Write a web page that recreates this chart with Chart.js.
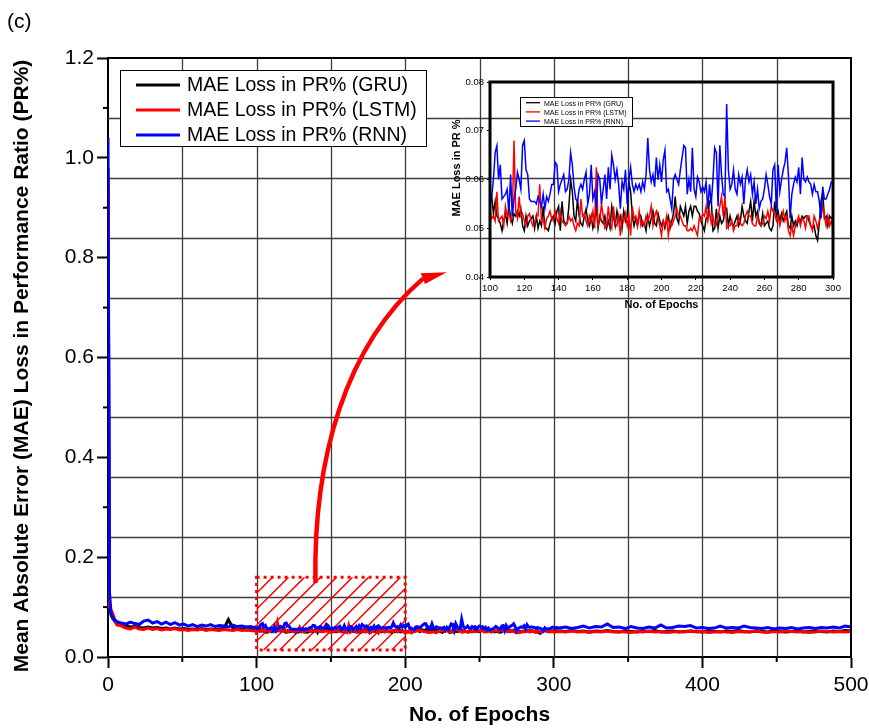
<!DOCTYPE html>
<html>
<head>
<meta charset="utf-8">
<script src="https://cdn.jsdelivr.net/npm/chart.js@4.4.0/dist/chart.umd.min.js"></script>
<style>
  body { margin: 0; background: #fff; }
  #wrap { position: relative; width: 869px; height: 728px; }
  #mainChart { position: absolute; left: 0; top: 0; }
  #insetBox { position: absolute; left: 440px; top: 70px; width: 410px; height: 250px; }
</style>
</head>
<body>
<div id="wrap">
  <canvas id="mainChart" width="869" height="728"></canvas>
  <div id="insetBox"><canvas id="insetChart" width="410" height="250"></canvas></div>
</div>
<script>
// series labels and colours
const seriesNames = ['MAE Loss in PR% (GRU)', 'MAE Loss in PR% (LSTM)', 'MAE Loss in PR% (RNN)'];
const seriesColors = ['#000000', '#ff0000', '#0000ff'];

const range = (a, b, s) => { const out = []; for (let v = a; v <= b; v += s) out.push(v); return out; };

// epochs 0-99 (sparse), 100-300 (every epoch, also the inset), 304-500 (every 4)
const epochsEarly = [0, 1, 2, 3, 4, 5, 6, 9, 12, 15, 18, 21, 24, 27, 30, 33, 36, 39, 42, 45, 48,
  51, 54, 57, 60, 63, 66, 69, 72, 75, 78, 81, 84, 87, 90, 93, 96, 99];
const epochsMid = range(100, 300, 1);
const epochsLate = range(304, 500, 4);

const gruEarly = [0.98, 0.11, 0.085, 0.078, 0.074, 0.07,
  0.068, 0.064, 0.062, 0.060, 0.061, 0.059, 0.058, 0.060, 0.058, 0.059,
  0.057, 0.058, 0.056, 0.058, 0.056, 0.057, 0.055, 0.056, 0.055, 0.057,
  0.055, 0.056, 0.055, 0.056, 0.057, 0.075, 0.058, 0.055, 0.056, 0.054,
  0.055, 0.054];
const lstmEarly = [0.95, 0.10, 0.095, 0.088, 0.08, 0.07,
  0.064, 0.062, 0.058, 0.056, 0.060, 0.056, 0.055, 0.058, 0.055, 0.057,
  0.054, 0.056, 0.055, 0.057, 0.054, 0.055, 0.053, 0.055, 0.054, 0.056,
  0.053, 0.055, 0.054, 0.053, 0.055, 0.054, 0.053, 0.055, 0.053, 0.054,
  0.053, 0.052];
const rnnEarly = [1.04, 0.13, 0.09, 0.08, 0.076, 0.073,
  0.071, 0.068, 0.066, 0.070, 0.067, 0.065, 0.072, 0.074, 0.068, 0.071,
  0.066, 0.070, 0.065, 0.069, 0.064, 0.066, 0.062, 0.065, 0.061, 0.064,
  0.062, 0.065, 0.061, 0.063, 0.062, 0.060, 0.064, 0.061, 0.062, 0.060,
  0.061, 0.059];

const gruMid = [
  0.055, 0.0565, 0.053, 0.0555, 0.0525, 0.052, 0.051, 0.0495, 0.0515, 0.053,
  0.051, 0.0545, 0.0525, 0.051, 0.053, 0.0525, 0.0535, 0.0525, 0.054, 0.0505,
  0.0495, 0.0525, 0.0505, 0.0515, 0.052, 0.0525, 0.050, 0.0525, 0.050, 0.0515,
  0.0505, 0.0545, 0.050, 0.050, 0.0495, 0.051, 0.052, 0.0525, 0.051, 0.0535,
  0.0545, 0.0495, 0.0555, 0.0515, 0.051, 0.051, 0.0545, 0.060, 0.0575, 0.0525,
  0.0515, 0.056, 0.0525, 0.051, 0.0505, 0.0525, 0.054, 0.0515, 0.0505, 0.0525,
  0.050, 0.0515, 0.0545, 0.050, 0.0525, 0.0515, 0.051, 0.0525, 0.050, 0.0515,
  0.050, 0.0545, 0.0525, 0.0505, 0.0535, 0.0515, 0.0525, 0.050, 0.0535, 0.0515,
  0.0525, 0.0595, 0.0575, 0.0525, 0.0505, 0.052, 0.0505, 0.053, 0.0525, 0.0505,
  0.051, 0.0495, 0.0525, 0.0505, 0.052, 0.0535, 0.051, 0.0505, 0.053, 0.0515,
  0.0505, 0.0515, 0.050, 0.0515, 0.0525, 0.050, 0.0515, 0.053, 0.0565, 0.052,
  0.051, 0.0545, 0.0535, 0.0525, 0.0545, 0.051, 0.0535, 0.0545, 0.0525, 0.0545,
  0.0545, 0.0535, 0.053, 0.0515, 0.0505, 0.0495, 0.052, 0.0525, 0.0555, 0.056,
  0.0495, 0.050, 0.054, 0.050, 0.0525, 0.051, 0.0515, 0.0535, 0.054, 0.0505,
  0.0525, 0.051, 0.0505, 0.0515, 0.0525, 0.0505, 0.0515, 0.0545, 0.0525, 0.0515,
  0.051, 0.0535, 0.0555, 0.0515, 0.0555, 0.0525, 0.0535, 0.051, 0.0505, 0.053,
  0.0505, 0.051, 0.0515, 0.050, 0.0495, 0.0505, 0.0555, 0.0525, 0.0535, 0.0515,
  0.053, 0.0515, 0.0525, 0.0535, 0.0505, 0.050, 0.0525, 0.0505, 0.0515, 0.0505,
  0.052, 0.0515, 0.0525, 0.052, 0.0525, 0.0525, 0.0515, 0.0505, 0.050, 0.0505,
  0.0485, 0.0475, 0.051, 0.0555, 0.0575, 0.052, 0.0525, 0.0505, 0.0525, 0.052,
  0.0525];
const lstmMid = [
  0.0535, 0.052, 0.0525, 0.0515, 0.0575, 0.0515, 0.052, 0.0525, 0.0505, 0.0545,
  0.0525, 0.0535, 0.0515, 0.0525, 0.068, 0.0535, 0.052, 0.0565, 0.0525, 0.053,
  0.0515, 0.0505, 0.0525, 0.053, 0.0515, 0.0505, 0.051, 0.0525, 0.0525, 0.059,
  0.0515, 0.052, 0.050, 0.052, 0.0525, 0.0535, 0.052, 0.0515, 0.0535, 0.052,
  0.051, 0.0535, 0.0515, 0.051, 0.0505, 0.051, 0.0525, 0.0515, 0.052, 0.0505,
  0.0495, 0.051, 0.0505, 0.056, 0.0525, 0.053, 0.0515, 0.0505, 0.0525, 0.0515,
  0.0535, 0.050, 0.0625, 0.0505, 0.0515, 0.055, 0.0525, 0.050, 0.0505, 0.0545,
  0.051, 0.050, 0.0545, 0.051, 0.0505, 0.0525, 0.0485, 0.0525, 0.0515, 0.053,
  0.0505, 0.0525, 0.0485, 0.0545, 0.052, 0.0525, 0.0505, 0.0535, 0.0505, 0.0515,
  0.0505, 0.0525, 0.0515, 0.0525, 0.0545, 0.0505, 0.0525, 0.0535, 0.052, 0.0505,
  0.0485, 0.0515, 0.0505, 0.0525, 0.0485, 0.0515, 0.0505, 0.0515, 0.0525, 0.054,
  0.0525, 0.0525, 0.0515, 0.0505, 0.0505, 0.0495, 0.0495, 0.050, 0.0495, 0.0505,
  0.0495, 0.0485, 0.052, 0.0515, 0.053, 0.0525, 0.0545, 0.0515, 0.0535, 0.051,
  0.0525, 0.0505, 0.0505, 0.0525, 0.0545, 0.0565, 0.0525, 0.0565, 0.050, 0.0505,
  0.0505, 0.0515, 0.0495, 0.0505, 0.0505, 0.0525, 0.051, 0.0505, 0.051, 0.0525,
  0.0535, 0.0525, 0.0525, 0.051, 0.0505, 0.0505, 0.0525, 0.0515, 0.0505, 0.051,
  0.0525, 0.052, 0.0535, 0.0515, 0.0545, 0.0535, 0.053, 0.0515, 0.0525, 0.0505,
  0.052, 0.0535, 0.0515, 0.0525, 0.0495, 0.0485, 0.0505, 0.0485, 0.0505, 0.0515,
  0.0525, 0.0505, 0.052, 0.0515, 0.050, 0.0525, 0.0525, 0.0505, 0.0495, 0.0525,
  0.0515, 0.050, 0.0515, 0.0525, 0.0545, 0.0525, 0.0505, 0.0525, 0.0505, 0.0515,
  0.050];
const rnnMid = [
  0.0575, 0.0565, 0.060, 0.0655, 0.0669, 0.060, 0.063, 0.056, 0.0565, 0.057,
  0.058, 0.053, 0.061, 0.0525, 0.056, 0.058, 0.0615, 0.060, 0.058, 0.067,
  0.068, 0.062, 0.061, 0.056, 0.0555, 0.0555, 0.0555, 0.055, 0.0565, 0.0555,
  0.0545, 0.057, 0.054, 0.0565, 0.0555, 0.057, 0.059, 0.059, 0.0635, 0.063,
  0.0575, 0.059, 0.060, 0.061, 0.0575, 0.058, 0.060, 0.0655, 0.063, 0.0585,
  0.056, 0.0555, 0.058, 0.059, 0.058, 0.060, 0.0615, 0.055, 0.057, 0.063,
  0.056, 0.0575, 0.054, 0.061, 0.060, 0.055, 0.058, 0.061, 0.056, 0.0625,
  0.058, 0.065, 0.063, 0.060, 0.062, 0.059, 0.054, 0.0595, 0.058, 0.062,
  0.055, 0.060, 0.0625, 0.059, 0.0575, 0.059, 0.058, 0.059, 0.0575, 0.0595,
  0.058, 0.061, 0.0685, 0.062, 0.0595, 0.061, 0.0585, 0.0645, 0.060, 0.063,
  0.0595, 0.064, 0.066, 0.0575, 0.058, 0.056, 0.054, 0.060, 0.061, 0.060,
  0.059, 0.062, 0.0645, 0.067, 0.0665, 0.057, 0.060, 0.0575, 0.0665, 0.058,
  0.0565, 0.0605, 0.0595, 0.0575, 0.0585, 0.0575, 0.0595, 0.054, 0.059, 0.055,
  0.060, 0.0665, 0.0655, 0.0545, 0.067, 0.061, 0.057, 0.0565, 0.0755, 0.062,
  0.058, 0.059, 0.062, 0.058, 0.057, 0.061, 0.059, 0.0605, 0.055, 0.060,
  0.062, 0.0595, 0.061, 0.057, 0.0595, 0.055, 0.058, 0.054, 0.0555, 0.056,
  0.058, 0.061, 0.059, 0.0565, 0.055, 0.062, 0.063, 0.0535, 0.063, 0.0575,
  0.060, 0.062, 0.0635, 0.0665, 0.061, 0.052, 0.057, 0.059, 0.0605, 0.0595,
  0.0625, 0.057, 0.0645, 0.060, 0.0595, 0.0605, 0.0595, 0.059, 0.057, 0.059,
  0.0575, 0.0575, 0.0555, 0.052, 0.0585, 0.056, 0.056, 0.057, 0.058, 0.0595,
  0.0595];

const gruLate = [
  0.052, 0.051, 0.053, 0.051, 0.052, 0.050, 0.052, 0.051, 0.053, 0.051,
  0.050, 0.052, 0.051, 0.050, 0.052, 0.051, 0.053, 0.050, 0.051, 0.052,
  0.050, 0.051, 0.052, 0.051, 0.050, 0.052, 0.051, 0.050, 0.052, 0.051,
  0.053, 0.051, 0.050, 0.052, 0.051, 0.050, 0.052, 0.051, 0.050, 0.051,
  0.052, 0.050, 0.051, 0.052, 0.051, 0.050, 0.052, 0.051, 0.053, 0.052];
const lstmLate = [
  0.051, 0.050, 0.052, 0.050, 0.051, 0.049, 0.051, 0.050, 0.052, 0.050,
  0.051, 0.050, 0.049, 0.051, 0.050, 0.052, 0.050, 0.051, 0.049, 0.050,
  0.051, 0.050, 0.052, 0.050, 0.051, 0.049, 0.050, 0.051, 0.050, 0.049,
  0.051, 0.050, 0.051, 0.052, 0.050, 0.049, 0.051, 0.050, 0.052, 0.051,
  0.050, 0.051, 0.049, 0.050, 0.052, 0.051, 0.050, 0.051, 0.050, 0.051];
const rnnLate = [
  0.058, 0.060, 0.057, 0.059, 0.062, 0.058, 0.061, 0.060, 0.066, 0.059,
  0.060, 0.057, 0.061, 0.058, 0.057, 0.060, 0.058, 0.064, 0.058, 0.059,
  0.062, 0.061, 0.063, 0.058, 0.059, 0.057, 0.058, 0.062, 0.058, 0.059,
  0.058, 0.062, 0.059, 0.058, 0.057, 0.059, 0.056, 0.058, 0.057, 0.059,
  0.056, 0.058, 0.059, 0.057, 0.059, 0.058, 0.060, 0.058, 0.062, 0.060];

const FONT = "'Liberation Sans', Arial, sans-serif";

const toPoints = (xs, ys) => xs.map((x, i) => ({ x: x, y: ys[i] }));
const fullSeries = (early, mid, late) =>
  toPoints(epochsEarly, early).concat(toPoints(epochsMid, mid), toPoints(epochsLate, late));

// hatched zoom window and curved arrow, in data units
const zoomBox = { x0: 100, x1: 200, y0: 0.014, y1: 0.16 };
const arrowCurve = [[139.6, 0.148], [138, 0.394], [159.5, 0.624], [212, 0.758]];
const arrowHead = [[228, 0.771], [210.4, 0.769], [213.3, 0.747]];

function drawLegend(ctx, box, rows, font, lineW) {
    ctx.fillStyle = '#fff';
    ctx.fillRect(box.x, box.y, box.w, box.h);
    ctx.strokeStyle = '#000';
    ctx.lineWidth = 1;
    ctx.strokeRect(box.x + 0.5, box.y + 0.5, box.w, box.h);
    ctx.font = font;
    ctx.textBaseline = 'middle';
    ctx.textAlign = 'left';
    rows.forEach((r, i) => {
        const yy = box.rowY + i * box.rowGap;
        ctx.strokeStyle = seriesColors[i];
        ctx.lineWidth = lineW;
        ctx.beginPath();
        ctx.moveTo(box.lineX0, yy);
        ctx.lineTo(box.lineX1, yy);
        ctx.stroke();
        ctx.fillStyle = '#000';
        ctx.fillText(r, box.textX, yy + 1);
    });
}

// fixed axis box sizes, no automatic label padding
const fixBox = (w, h) => s => {
    if (w) s.width = w;
    if (h) s.height = h;
    s.paddingLeft = s.paddingRight = s.paddingTop = s.paddingBottom = 0;
};

const mainDecor = {
    id: 'mainDecor',
    beforeDatasetsDraw(chart) {
        const { ctx, chartArea: a, scales: { x, y } } = chart;
        ctx.save();
        // grid: every 50 epochs, every 0.12 on y
        ctx.strokeStyle = '#3c3c3c';
        ctx.lineWidth = 1.3;
        for (let v = 50; v < 500; v += 50) {
            const px = Math.round(x.getPixelForValue(v)) + 0.5;
            ctx.beginPath(); ctx.moveTo(px, a.top); ctx.lineTo(px, a.bottom); ctx.stroke();
        }
        for (let i = 1; i < 10; i++) {
            const py = Math.round(y.getPixelForValue(i * 0.12)) + 0.5;
            ctx.beginPath(); ctx.moveTo(a.left, py); ctx.lineTo(a.right, py); ctx.stroke();
        }
        // hatched zoom window
        const bx0 = x.getPixelForValue(zoomBox.x0), bx1 = x.getPixelForValue(zoomBox.x1);
        const by0 = y.getPixelForValue(zoomBox.y1), by1 = y.getPixelForValue(zoomBox.y0);
        const h = by1 - by0;
        ctx.save();
        ctx.beginPath(); ctx.rect(bx0, by0, bx1 - bx0, h); ctx.clip();
        ctx.strokeStyle = '#ff0000';
        ctx.lineWidth = 1.5;
        for (let k = -h; k < bx1 - bx0; k += 16) {
            ctx.beginPath();
            ctx.moveTo(bx0 + k, by1);
            ctx.lineTo(bx0 + k + h, by0);
            ctx.stroke();
        }
        ctx.restore();
        ctx.strokeStyle = '#ff0000';
        ctx.lineWidth = 3;
        ctx.setLineDash([3, 4]);
        ctx.strokeRect(bx0, by0, bx1 - bx0, h);
        ctx.setLineDash([]);
        ctx.restore();
    },
    afterDatasetsDraw(chart) {
        const { ctx, chartArea: a, scales: { x, y } } = chart;
        const P = p => [x.getPixelForValue(p[0]), y.getPixelForValue(p[1])];
        ctx.save();
        // top and right frame
        ctx.strokeStyle = '#000';
        ctx.lineWidth = 2;
        ctx.beginPath();
        ctx.moveTo(a.left, a.top); ctx.lineTo(a.right, a.top); ctx.lineTo(a.right, a.bottom);
        ctx.stroke();
        // minor ticks
        for (let v = 50; v < 500; v += 100) {
            const px = x.getPixelForValue(v);
            ctx.beginPath(); ctx.moveTo(px, a.bottom); ctx.lineTo(px, a.bottom + 5); ctx.stroke();
        }
        for (let v = 0.1; v < 1.2; v += 0.2) {
            const py = y.getPixelForValue(v);
            ctx.beginPath(); ctx.moveTo(a.left, py); ctx.lineTo(a.left - 5, py); ctx.stroke();
        }
        // curved arrow
        const c = arrowCurve.map(P);
        ctx.strokeStyle = '#ff0000';
        ctx.fillStyle = '#ff0000';
        ctx.lineWidth = 4.5;
        ctx.beginPath();
        ctx.moveTo(c[0][0], c[0][1]);
        ctx.bezierCurveTo(c[1][0], c[1][1], c[2][0], c[2][1], c[3][0], c[3][1]);
        ctx.stroke();
        const hd = arrowHead.map(P);
        ctx.beginPath();
        ctx.moveTo(hd[0][0], hd[0][1]); ctx.lineTo(hd[1][0], hd[1][1]); ctx.lineTo(hd[2][0], hd[2][1]);
        ctx.closePath(); ctx.fill();
        // legend
        drawLegend(ctx, { x: 120, y: 70, w: 306, h: 76, rowY: 85, rowGap: 25, lineX0: 136, lineX1: 180, textX: 187 },
            seriesNames, '19.5px ' + FONT, 3);
        // y title and panel tag
        ctx.fillStyle = '#000';
        ctx.font = 'bold 21px ' + FONT;
        ctx.textAlign = 'center';
        ctx.textBaseline = 'middle';
        ctx.save();
        ctx.translate(22, 366);
        ctx.rotate(-Math.PI / 2);
        ctx.fillText('Mean Absolute Error (MAE) Loss in Performance Ratio (PR%)', 0, 0);
        ctx.restore();
        ctx.font = '21px ' + FONT;
        ctx.textAlign = 'left';
        ctx.fillText('(c)', 7, 22);
        ctx.restore();
    }
};

const axisCommon = {
    grid: { drawOnChartArea: false, tickLength: 11, tickWidth: 2, tickColor: '#000' },
    border: { display: true, color: '#000', width: 2 }
};

new Chart(document.getElementById('mainChart'), {
    type: 'line',
    data: {
        datasets: [
            { label: seriesNames[0], data: fullSeries(gruEarly, gruMid, gruLate), borderColor: seriesColors[0], order: 2 },
            { label: seriesNames[1], data: fullSeries(lstmEarly, lstmMid, lstmLate), borderColor: seriesColors[1], order: 1 },
            { label: seriesNames[2], data: fullSeries(rnnEarly, rnnMid, rnnLate), borderColor: seriesColors[2], order: 0 }
        ].map(d => Object.assign(d, { borderWidth: 3, pointRadius: 0, tension: 0, fill: false }))
    },
    options: {
        responsive: false,
        animation: false,
        layout: { padding: { top: 58, right: 18, left: 0, bottom: 0 } },
        plugins: { legend: { display: false }, tooltip: { enabled: false } },
        scales: {
            x: {
                type: 'linear', min: 0, max: 500,
                afterFit: fixBox(0, 71),
                ticks: { stepSize: 100, padding: 5, maxRotation: 0, color: '#000', font: { family: FONT, size: 21 } },
                title: { display: true, text: 'No. of Epochs', color: '#000', padding: 0, font: { family: FONT, size: 21, weight: 'bold' } },
                ...axisCommon
            },
            y: {
                min: 0, max: 1.2,
                afterFit: fixBox(108, 0),
                ticks: { stepSize: 0.2, padding: 3, color: '#000', font: { family: FONT, size: 21 }, callback: v => v.toFixed(1) },
                ...axisCommon
            }
        }
    },
    plugins: [mainDecor]
});

const insetDecor = {
    id: 'insetDecor',
    afterDatasetsDraw(chart) {
        const { ctx, chartArea: a } = chart;
        ctx.save();
        ctx.strokeStyle = '#000';
        ctx.lineWidth = 3;
        ctx.strokeRect(a.left, a.top, a.right - a.left, a.bottom - a.top);
        drawLegend(ctx, { x: 80, y: 27, w: 112, h: 29, rowY: 32.7, rowGap: 9.2, lineX0: 86, lineX1: 100, textX: 104 },
            seriesNames, '7px ' + FONT, 1.3);
        ctx.fillStyle = '#000';
        ctx.font = 'bold 11px ' + FONT;
        ctx.textAlign = 'center';
        ctx.textBaseline = 'middle';
        ctx.translate(17, 98);
        ctx.rotate(-Math.PI / 2);
        ctx.fillText('MAE Loss in PR %', 0, 0);
        ctx.restore();
    }
};

const insetAxis = {
    grid: { drawOnChartArea: false, tickLength: 3, tickWidth: 1, tickColor: '#000' },
    border: { display: false }
};

new Chart(document.getElementById('insetChart'), {
    type: 'line',
    data: {
        datasets: [
            { label: seriesNames[0], data: toPoints(epochsMid, gruMid), borderColor: seriesColors[0], order: 2 },
            { label: seriesNames[1], data: toPoints(epochsMid, lstmMid), borderColor: seriesColors[1], order: 1 },
            { label: seriesNames[2], data: toPoints(epochsMid, rnnMid), borderColor: seriesColors[2], order: 0 }
        ].map(d => Object.assign(d, { borderWidth: 1.5, pointRadius: 0, tension: 0, fill: false }))
    },
    options: {
        responsive: false,
        animation: false,
        layout: { padding: { top: 12, right: 17, left: 0, bottom: 0 } },
        plugins: { legend: { display: false }, tooltip: { enabled: false } },
        scales: {
            x: {
                type: 'linear', min: 100, max: 300,
                afterFit: fixBox(0, 43),
                ticks: { stepSize: 20, padding: 3, autoSkip: false, maxRotation: 0, color: '#000', font: { family: FONT, size: 9.5 } },
                title: { display: true, text: 'No. of Epochs', color: '#000', padding: { top: 0, bottom: 8 }, font: { family: FONT, size: 11, weight: 'bold' } },
                ...insetAxis
            },
            y: {
                min: 0.04, max: 0.08,
                afterFit: fixBox(50, 0),
                ticks: { stepSize: 0.01, padding: 3, color: '#000', font: { family: FONT, size: 9.5 }, callback: v => v.toFixed(2) },
                ...insetAxis
            }
        }
    },
    plugins: [insetDecor]
});
</script>
</body>
</html>
